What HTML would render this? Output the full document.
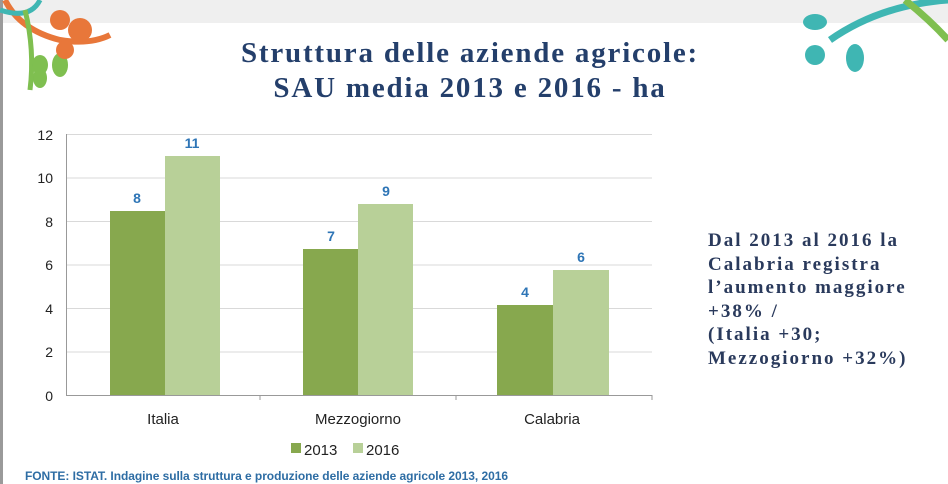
<!DOCTYPE html>
<html><head><meta charset="utf-8"><style>
body{margin:0;width:948px;height:484px;overflow:hidden;background:#fff;position:relative;font-family:"Liberation Sans",sans-serif}
.t{position:absolute;font-family:"Liberation Serif",serif;font-weight:bold;color:#243f6b}
</style></head><body>
<div style="position:absolute;left:0;top:0;width:948px;height:23px;background:#efefef"></div>
<div style="position:absolute;left:0;top:0;width:3px;height:484px;background:#9a9a9a"></div>
<svg width="948" height="484" style="position:absolute;left:0;top:0">
<path d="M5,0 Q20,30 60,40 Q90,45 110,35" stroke="#e8773a" stroke-width="6" fill="none"/>
<path d="M0,10 Q30,20 40,0" stroke="#3fb6b3" stroke-width="5" fill="none"/>
<path d="M25,10 Q35,50 30,90" stroke="#7fbf50" stroke-width="5" fill="none"/>
<ellipse cx="60" cy="65" rx="8" ry="12" fill="#7fbf50"/><ellipse cx="40" cy="65" rx="8" ry="10" fill="#7fbf50"/><ellipse cx="40" cy="78" rx="7" ry="10" fill="#7fbf50"/>
<circle cx="60" cy="20" r="10" fill="#e8773a"/><circle cx="80" cy="30" r="12" fill="#e8773a"/><circle cx="65" cy="50" r="9" fill="#e8773a"/>
<path d="M948,0 Q880,5 830,40" stroke="#3fb6b3" stroke-width="7" fill="none"/>
<path d="M905,0 Q930,20 948,40" stroke="#7fbf50" stroke-width="7" fill="none"/>
<ellipse cx="815" cy="22" rx="12" ry="8" fill="#3fb6b3"/><ellipse cx="855" cy="58" rx="9" ry="14" fill="#3fb6b3"/><ellipse cx="815" cy="55" rx="10" ry="10" fill="#3fb6b3"/>
<g stroke="#d9d9d9" stroke-width="1">
<line x1="66" x2="652" y1="134.5" y2="134.5"/><line x1="66" x2="652" y1="178" y2="178"/><line x1="66" x2="652" y1="221.5" y2="221.5"/>
<line x1="66" x2="652" y1="265" y2="265"/><line x1="66" x2="652" y1="308.5" y2="308.5"/><line x1="66" x2="652" y1="352" y2="352"/>
</g>
<line x1="66" x2="652" y1="395.5" y2="395.5" stroke="#999"/>
<line x1="66.5" x2="66.5" y1="134" y2="396" stroke="#999"/>
<g stroke="#999"><line x1="260" x2="260" y1="395" y2="400"/><line x1="456" x2="456" y1="395" y2="400"/><line x1="652" x2="652" y1="395" y2="400"/></g>
<g font-size="14" fill="#222" text-anchor="end">
<text x="53" y="140">12</text><text x="53" y="183">10</text><text x="53" y="227">8</text><text x="53" y="270">6</text><text x="53" y="314">4</text><text x="53" y="357">2</text><text x="53" y="401">0</text>
</g>
<g fill="#87a84e"><rect x="110" y="211" width="55" height="184"/><rect x="303" y="249" width="55" height="146"/><rect x="497" y="305" width="56" height="90"/></g>
<g fill="#b8d098"><rect x="165" y="156" width="55" height="239"/><rect x="358" y="204" width="55" height="191"/><rect x="553" y="270" width="56" height="125"/></g>
<g font-size="14" font-weight="bold" fill="#2e75b6" text-anchor="middle">
<text x="137" y="203">8</text><text x="192" y="148">11</text><text x="331" y="241">7</text><text x="386" y="196">9</text><text x="525" y="297">4</text><text x="581" y="262">6</text>
</g>
<g font-size="15" fill="#222" text-anchor="middle"><text x="163" y="424">Italia</text><text x="358" y="424">Mezzogiorno</text><text x="552" y="424">Calabria</text></g>
<rect x="291" y="443" width="10" height="10" fill="#87a84e"/><text x="304" y="455" font-size="15" fill="#222">2013</text>
<rect x="353" y="443" width="10" height="10" fill="#b8d098"/><text x="366" y="455" font-size="15" fill="#222">2016</text>
<text x="25" y="480" font-size="12" font-weight="bold" fill="#2e6da4" textLength="483">FONTE:  ISTAT. Indagine sulla struttura e produzione delle aziende agricole 2013, 2016</text>
</svg>
<div class="t" style="left:120px;top:36px;width:700px;text-align:center;font-size:29px;line-height:35px;letter-spacing:1.8px">Struttura delle aziende agricole:<br>SAU media 2013 e 2016 - ha</div>
<div class="t" style="left:708px;top:229px;font-size:19px;line-height:23.5px;letter-spacing:2px;color:#2a3a5c;white-space:nowrap">Dal 2013 al 2016 la<br>Calabria registra<br>l’aumento maggiore<br>+38% /<br>(Italia +30;<br>Mezzogiorno +32%)</div>
</body></html>
